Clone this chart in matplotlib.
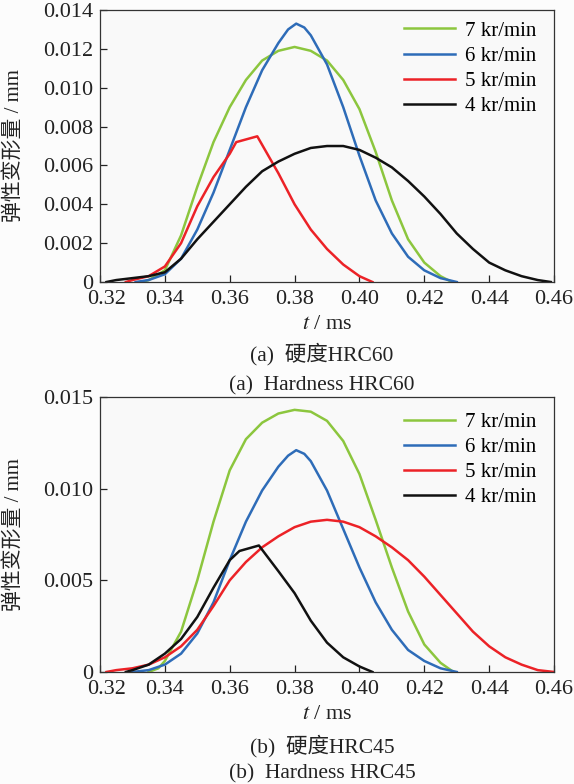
import matplotlib
matplotlib.use("Agg")
import matplotlib.pyplot as plt
import matplotlib.transforms as mtransforms

# ── data ─────────────────────────────────────────────────────────────────────
LABELS = ["7 kr/min", "6 kr/min", "5 kr/min", "4 kr/min"]
COLORS = ["#8cc63e", "#2e6cb8", "#ec2227", "#111111"]

# (a) HRC60
a7_t = [0.333, 0.335, 0.34, 0.345, 0.35, 0.355, 0.36, 0.365, 0.37, 0.375, 0.38, 0.385,
        0.39, 0.395, 0.40, 0.405, 0.41, 0.415, 0.42, 0.425, 0.4285]
a7_y = [0, 0.0001, 0.0006, 0.0024, 0.0049, 0.0072, 0.0090, 0.0104, 0.0114, 0.0119, 0.0121,
        0.0119, 0.0114, 0.0104, 0.0089, 0.0067, 0.0042, 0.0022, 0.0010, 0.0003, 0]
a6_t = [0.331, 0.335, 0.34, 0.345, 0.35, 0.355, 0.36, 0.365, 0.37, 0.375, 0.378, 0.3805,
        0.383, 0.385, 0.39, 0.395, 0.40, 0.405, 0.41, 0.415, 0.42, 0.425, 0.43]
a6_y = [0, 0.0001, 0.0004, 0.0012, 0.0027, 0.0046, 0.0068, 0.0090, 0.0109, 0.0123, 0.0130,
        0.0133, 0.0131, 0.0127, 0.0112, 0.0090, 0.0065, 0.0042, 0.0025, 0.0013, 0.0006,
        0.0002, 0]
a5_t = [0.328, 0.33, 0.335, 0.34, 0.345, 0.35, 0.355, 0.36, 0.362, 0.3685, 0.375, 0.38,
        0.385, 0.39, 0.395, 0.40, 0.404]
a5_y = [0, 0.0001, 0.0003, 0.0008, 0.0020, 0.0039, 0.0054, 0.0066, 0.0072, 0.0075, 0.0056,
        0.0040, 0.0027, 0.0017, 0.0009, 0.0003, 0]
a4_t = [0.322, 0.325, 0.33, 0.335, 0.34, 0.345, 0.35, 0.355, 0.36, 0.365, 0.37, 0.375, 0.38,
        0.385, 0.39, 0.395, 0.40, 0.405, 0.41, 0.415, 0.42, 0.425, 0.43, 0.435, 0.44, 0.445,
        0.45, 0.455, 0.459]
a4_y = [0, 0.0001, 0.0002, 0.0003, 0.0005, 0.0012, 0.0022, 0.0031, 0.0040, 0.0049, 0.0057,
        0.0062, 0.0066, 0.0069, 0.0070, 0.0070, 0.0068, 0.0064, 0.0059, 0.0052, 0.0044,
        0.0035, 0.0025, 0.0017, 0.0010, 0.0006, 0.0003, 0.0001, 0]

# (b) HRC45
b7_t = [0.335, 0.338, 0.34, 0.345, 0.35, 0.355, 0.36, 0.365, 0.37, 0.375, 0.38, 0.385,
        0.39, 0.395, 0.40, 0.405, 0.41, 0.415, 0.42, 0.425, 0.429]
b7_y = [0, 0.0002, 0.0006, 0.0022, 0.0050, 0.0082, 0.0110, 0.0127, 0.0136, 0.0141, 0.0143,
        0.0142, 0.0137, 0.0126, 0.0108, 0.0083, 0.0057, 0.0033, 0.0015, 0.0005, 0]
b6_t = [0.330, 0.335, 0.34, 0.345, 0.35, 0.355, 0.36, 0.365, 0.37, 0.375, 0.378, 0.3805,
        0.383, 0.385, 0.39, 0.395, 0.40, 0.405, 0.41, 0.415, 0.42, 0.425, 0.43]
b6_y = [0, 0.0001, 0.0004, 0.0010, 0.0021, 0.0038, 0.0061, 0.0082, 0.0099, 0.0112, 0.0118,
        0.0121, 0.0119, 0.0115, 0.0099, 0.0078, 0.0057, 0.0038, 0.0023, 0.0012, 0.0006,
        0.0002, 0]
b5_t = [0.322, 0.325, 0.33, 0.335, 0.34, 0.345, 0.35, 0.355, 0.36, 0.365, 0.37, 0.375, 0.38,
        0.385, 0.39, 0.395, 0.40, 0.405, 0.41, 0.415, 0.42, 0.425, 0.43, 0.435, 0.44, 0.445,
        0.45, 0.455, 0.46]
b5_y = [0, 0.0001, 0.0002, 0.0004, 0.0008, 0.0014, 0.0023, 0.0036, 0.0050, 0.0060, 0.0068,
        0.0074, 0.0079, 0.0082, 0.0083, 0.0082, 0.0079, 0.0074, 0.0068, 0.0061, 0.0052,
        0.0042, 0.0032, 0.0022, 0.0014, 0.0008, 0.0004, 0.0001, 0]
b4_t = [0.328, 0.33, 0.335, 0.34, 0.345, 0.35, 0.355, 0.36, 0.363, 0.369, 0.375, 0.38,
        0.385, 0.39, 0.395, 0.40, 0.404]
b4_y = [0, 0.0001, 0.0004, 0.0010, 0.0018, 0.0030, 0.0046, 0.0061, 0.0066, 0.0069, 0.0055,
        0.0043, 0.0028, 0.0016, 0.0008, 0.0003, 0]

x_ticks = [0.32, 0.34, 0.36, 0.38, 0.40, 0.42, 0.44, 0.46]
x_ticklabels = ["0.32", "0.34", "0.36", "0.38", "0.40", "0.42", "0.44", "0.46"]
a_yticks = [0, 0.002, 0.004, 0.006, 0.008, 0.010, 0.012, 0.014]
a_yticklabels = ["0", "0.002", "0.004", "0.006", "0.008", "0.010", "0.012", "0.014"]
b_yticks = [0, 0.005, 0.010, 0.015]
b_yticklabels = ["0", "0.005", "0.010", "0.015"]

YLABEL = "弹性变形量 / mm"
XLABEL = r"$t$ / ms"
CAP_A = ["(a)  硬度HRC60", "(a)  Hardness HRC60"]
CAP_B = ["(b)  硬度HRC45", "(b)  Hardness HRC45"]

FAM = ["Liberation Serif", "Noto Sans CJK SC"]
TXT = "#222222"

plt.rcParams.update({
    "font.family": FAM,
    "mathtext.fontset": "stix",
    "font.size": 15,
    "axes.linewidth": 0.9,
})

fig = plt.figure(figsize=(5.74, 7.84), dpi=100, facecolor="#fcfcfc")
ax_a = fig.add_axes([0.1742, 0.6403, 0.791, 0.3469])
ax_b = fig.add_axes([0.1742, 0.1429, 0.791, 0.3507])


def draw(ax, series, yticks, yticklabels, ymax, leg_top):
    ax.set_facecolor("#f9f9f9")
    for (t, y), c, lab in zip(series, COLORS, LABELS):
        ax.plot(t, y, color=c, lw=1.8, label=lab, solid_joinstyle="round")
    ax.set_xlim(0.32, 0.46)
    ax.set_ylim(0, ymax)
    ax.set_xticks(x_ticks)
    ax.set_xticklabels(x_ticklabels)
    ax.set_yticks(yticks)
    ax.set_yticklabels(yticklabels)
    ax.tick_params(direction="in", length=5, width=0.9, labelsize=16,
                   colors=TXT)
    ax.tick_params(axis="x", pad=6)
    ax.tick_params(axis="y", pad=5)
    # first x label sits a little right of its tick, clear of the "0"
    first = ax.get_xticklabels()[0]
    first.set_transform(first.get_transform() +
                        mtransforms.ScaledTranslation(7 / 100, 0, fig.dpi_scale_trans))
    for s in ax.spines.values():
        s.set_color("#333333")
    ax.set_xlabel(XLABEL, fontsize=16, color=TXT, labelpad=4)
    ax.set_ylabel(YLABEL, fontsize=15, color=TXT, labelpad=14)
    ax.legend(loc="upper right", frameon=False, fontsize=15, handlelength=2.45,
              handletextpad=0.5, labelspacing=0.27, borderaxespad=0.0,
              bbox_to_anchor=(0.98, leg_top))


draw(ax_a, [(a7_t, a7_y), (a6_t, a6_y), (a5_t, a5_y), (a4_t, a4_y)],
     a_yticks, a_yticklabels, 0.014, 0.99)
draw(ax_b, [(b7_t, b7_y), (b6_t, b6_y), (b5_t, b5_y), (b4_t, b4_y)],
     b_yticks, b_yticklabels, 0.015, 0.975)

cx = 322 / 574
fig.text(cx, 1 - 354 / 784, CAP_A[0], ha="center", va="center", fontsize=15.5, color=TXT)
fig.text(cx, 1 - 386 / 784, CAP_A[1], ha="center", va="center", fontsize=15.5, color=TXT)
fig.text(cx, 1 - 746 / 784, CAP_B[0], ha="center", va="center", fontsize=15.5, color=TXT)
fig.text(cx, 1 - 774 / 784, CAP_B[1], ha="center", va="center", fontsize=15.5, color=TXT)

fig.savefig("out.png", dpi=100, facecolor=fig.get_facecolor())
